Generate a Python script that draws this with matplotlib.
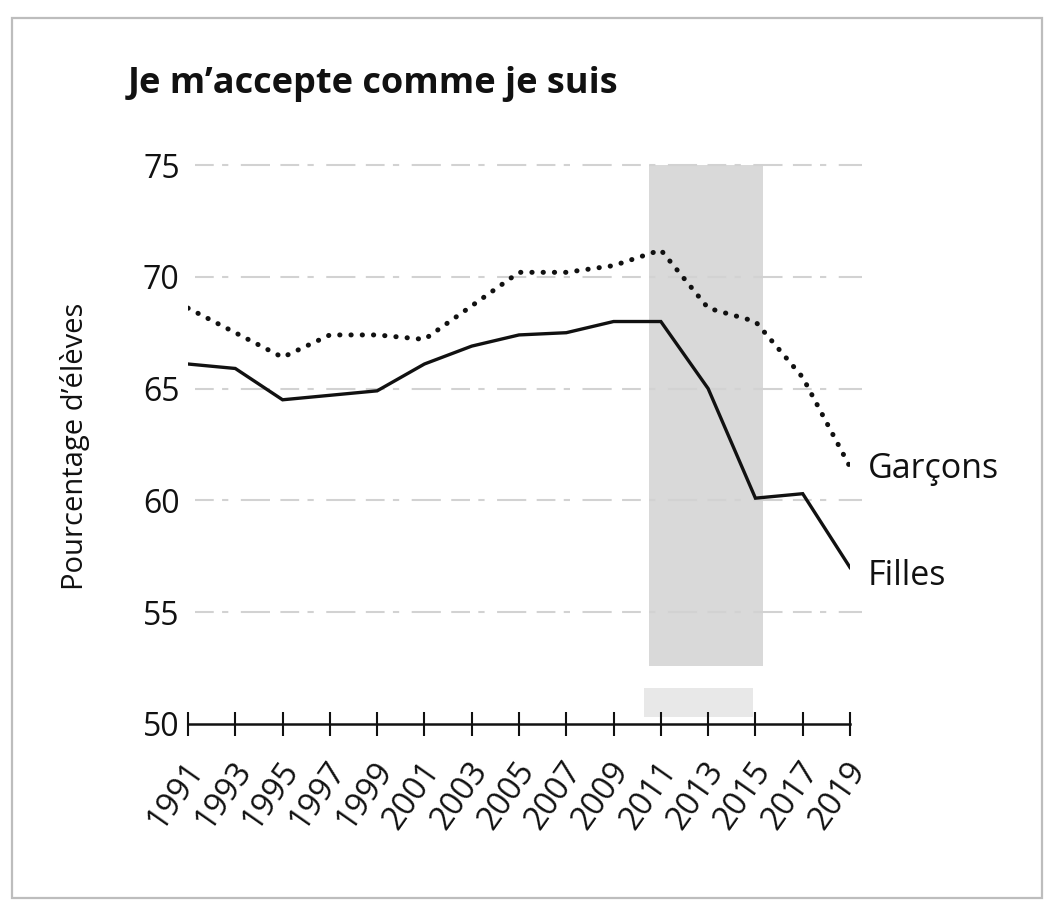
import matplotlib
matplotlib.use("Agg")
import matplotlib.pyplot as plt
import matplotlib.transforms as mtransforms
from matplotlib.patches import Rectangle

# ---- data ----
years = [1991, 1993, 1995, 1997, 1999, 2001, 2003, 2005, 2007, 2009, 2011, 2013, 2015, 2017, 2019]
filles = [66.1, 65.9, 64.5, 64.7, 64.9, 66.1, 66.9, 67.4, 67.5, 68.0, 68.0, 65.0, 60.1, 60.3, 57.0]
garcons = [68.6, 67.5, 66.4, 67.4, 67.4, 67.2, 68.7, 70.2, 70.2, 70.5, 71.2, 68.6, 68.0, 65.5, 61.5]
yticks = [50, 55, 60, 65, 70, 75]
band = (2010.5, 2015.3)
title = "Je m\u2019accepte comme je suis"
ylabel = "Pourcentage d\u2019élèves"
label_f = "Filles"
label_g = "Garçons"

plt.rcParams['font.family'] = ['Open Sans', 'DejaVu Sans']

fig = plt.figure(figsize=(10.48, 9.07), dpi=100)
fig.patch.set_facecolor('white')

# figure frame (scanned page border)
fig.add_artist(Rectangle((12/1048, 1 - 898/907), (1042-12)/1048, (898-18)/907,
                         transform=fig.transFigure, fill=False,
                         edgecolor='#bdbdbd', linewidth=1.6))

L, R = 188/1048, 850/1048
B, T = 1 - 724/907, 1 - 165/907
ax = fig.add_axes([L, B, R - L, T - B])
ax.set_xlim(1991, 2019)
ax.set_ylim(50, 75)

# shaded band
ax.add_patch(Rectangle((band[0], 52.6), band[1] - band[0], 75 - 52.6,
                       facecolor='#d9d9d9', edgecolor='none', zorder=0))
ax.add_patch(Rectangle((band[0] - 0.2, 50.3), band[1] - band[0] - 0.2, 1.3,
                       facecolor='#e8e8e8', edgecolor='none', zorder=0))

# gridlines
for yv in yticks[1:]:
    ax.plot([1991.3, 2019.5], [yv, yv], color='#d2d2d2', lw=1.5,
            linestyle=(0, (9, 4, 3, 6, 14, 5)), zorder=1, clip_on=False)

ax.plot(years, filles, color='#111111', lw=2.4, zorder=3, solid_joinstyle='miter')
ax.plot(years, garcons, color='#111111', lw=3.6, linestyle=(0, (0.05, 2.2)),
        dash_capstyle='round', zorder=3)

ax.text(2019.75, 61.4, label_g, fontsize=24.5, va='center', ha='left', color='#111111')
ax.text(2019.75, 56.6, label_f, fontsize=24.5, va='center', ha='left', color='#111111')

for s in ['top', 'right', 'left']:
    ax.spines[s].set_visible(False)
ax.spines['bottom'].set_linewidth(1.8)
ax.spines['bottom'].set_color('#111111')

ax.set_xticks(years)
ax.set_xticklabels([str(y) for y in years], rotation=55, ha='right', va='center',
                   rotation_mode='anchor', fontsize=23.5, color='#111111')
ax.tick_params(axis='x', direction='inout', length=17, width=1.5, color='#111111', pad=21)
offset = mtransforms.ScaledTranslation(9/100, 0, fig.dpi_scale_trans)
for lbl in ax.get_xticklabels():
    lbl.set_transform(lbl.get_transform() + offset)
ax.set_yticks(yticks)
ax.set_yticklabels([str(v) for v in yticks], fontsize=23, color='#111111')
ax.tick_params(axis='y', length=0, pad=6)

fig.text(75/1048, 1 - 446/907, ylabel, rotation=90, fontsize=21,
         ha='center', va='center', color='#111111')
fig.text(128/1048, 1 - 84/907, title, fontsize=26, fontweight='bold',
         ha='left', va='center', color='#111111')

fig.savefig('out.png', dpi=100, facecolor='white')
